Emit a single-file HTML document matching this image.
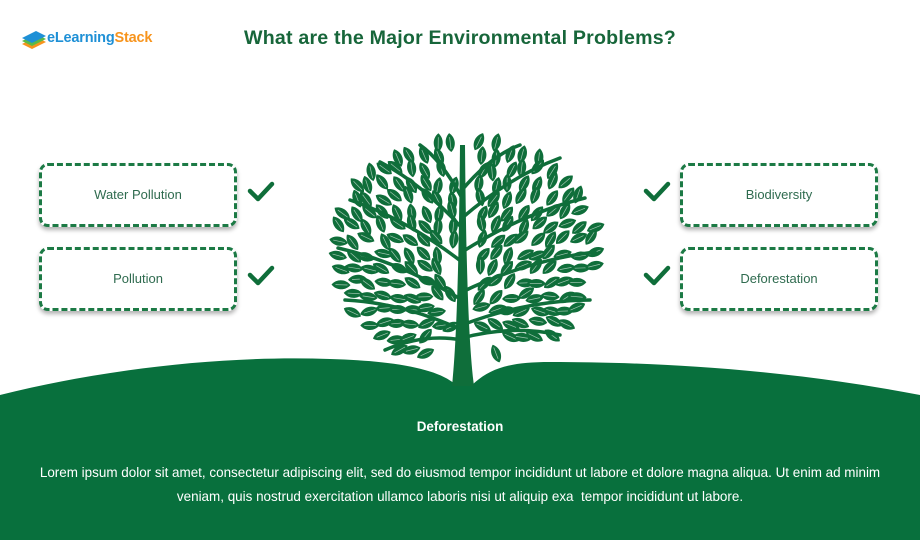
<!DOCTYPE html>
<html><head><meta charset="utf-8"><style>
body{margin:0;width:920px;height:540px;overflow:hidden;background:#fff;font-family:"Liberation Sans",sans-serif;position:relative}
.title{position:absolute;left:0;width:920px;top:27px;text-align:center;font-weight:bold;font-size:19.6px;color:#17663a;letter-spacing:0.2px}
.logo{position:absolute;left:47px;top:30px;font-weight:bold;font-size:14.5px;letter-spacing:-0.2px}
.box{position:absolute;width:192px;height:56px;border:3px dashed #1c7a45;border-radius:9px;box-shadow:0 3px 4px rgba(0,0,0,.3);display:flex;align-items:center;justify-content:center;font-size:13px;color:#2f6b4f;background:#fff;padding-bottom:2px;box-sizing:content-box}
.txt{position:absolute;left:0;width:920px;text-align:center;color:#fff;font-size:13.45px}
</style></head><body>
<svg width="920" height="540" style="position:absolute;left:0;top:0">
<g transform="translate(20,30)">
<path d="M2 14 L12 19 L26 12 L16 7 Z" fill="#f7941d"/>
<path d="M2 11 L12 16 L26 9 L16 4 Z" fill="#5bb947"/>
<path d="M2 8 L12 13 L26 6 L16 1 Z" fill="#1e90d6"/>
</g>
<path d="M0 395 C100 370 220 355 330 359 C400 361 440 370 456 385 L472 385 C490 368 510 362 550 362 C650 362 780 368 920 395 L920 540 L0 540 Z" fill="#08703d"/>
<g id="tree"></g>
<g fill="none" stroke="#0f6e3a" stroke-width="4.5" stroke-linecap="round" stroke-linejoin="round">
<path d="M250 191 L258 199 L272 184"/><path d="M250 275 L258 283 L272 268"/>
<path d="M646 191 L654 199 L668 184"/><path d="M646 275 L654 283 L668 268"/>
</g>
</svg>
<div class="logo"><span style="color:#1e90d6">eLearning</span><span style="color:#f7941d">Stack</span></div>
<div class="title">What are the Major Environmental Problems?</div>
<div class="box" style="left:39px;top:163px">Water Pollution</div>
<div class="box" style="left:39px;top:247px">Pollution</div>
<div class="box" style="left:680px;top:163px">Biodiversity</div>
<div class="box" style="left:680px;top:247px">Deforestation</div>
<div class="txt" style="top:419px;font-weight:bold">Deforestation</div>
<div class="txt" style="top:461px;line-height:24px;padding:0 20px;box-sizing:border-box">Lorem ipsum dolor sit amet, consectetur adipiscing elit, sed do eiusmod tempor incididunt ut labore et dolore magna aliqua. Ut enim ad minim<br>veniam, quis nostrud exercitation ullamco laboris nisi ut aliquip exa&nbsp; tempor incididunt ut labore.</div>
<script>
(function(){
var g=document.getElementById('tree'),C='#0f6e3a',s='';
var seed=7;function r(){seed=(seed*16807)%2147483647;return seed/2147483647;}
var cx=465,cy=252,rx=134,ry=114;
for(var y=142;y<=362;y+=14){for(var x=334;x<=600;x+=14){
 var xx=x+(r()-.5)*6+((y/14)%2?7:0),yy=y+(r()-.5)*6;
 var dx=(xx-cx)/rx,dy=(yy-cy)/ry;
 if(dx*dx+dy*dy>1)continue;
 if(yy>335&&Math.abs(xx-465)<30)continue;
 if(yy>348&&xx>500)continue;
 if(Math.abs(xx-462)<8)continue;
 var a=Math.atan2(yy-cy-60,xx-cx)*180/Math.PI+90+(r()-.5)*50;
 s+='<g transform="translate('+xx.toFixed(1)+','+yy.toFixed(1)+') rotate('+a.toFixed(0)+')"><path d="M0 -10 C6 -5 6 4 0 9 C-6 4 -6 -5 0 -10Z" fill="'+C+'"/><line x1="0" y1="-6" x2="0" y2="6" stroke="#fff" stroke-width="0.7" opacity="0.6"/></g>';
}}
var br=[[330,345,300],[325,590,300],[300,338,248],[292,595,252],[262,350,200],[252,585,198],[228,380,162],[218,560,158],[198,420,145],[190,520,145],[340,385,350],[338,560,335]];
var p='';
br.forEach(function(b){var mx=(462+b[1])/2,my=(b[0]+b[2])/2-12;p+='M462 '+b[0]+' Q'+mx+' '+my+' '+b[1]+' '+b[2]+' ';});
s+='<path d="'+p+'" fill="none" stroke="'+C+'" stroke-width="3.5" stroke-linecap="round"/>';
s+='<path d="M452 386 C457 340 459 250 460 145 L465 145 C466 250 468 340 474 386 Z" fill="'+C+'"/>';
g.innerHTML=s;
})();
</script>
</body></html>
